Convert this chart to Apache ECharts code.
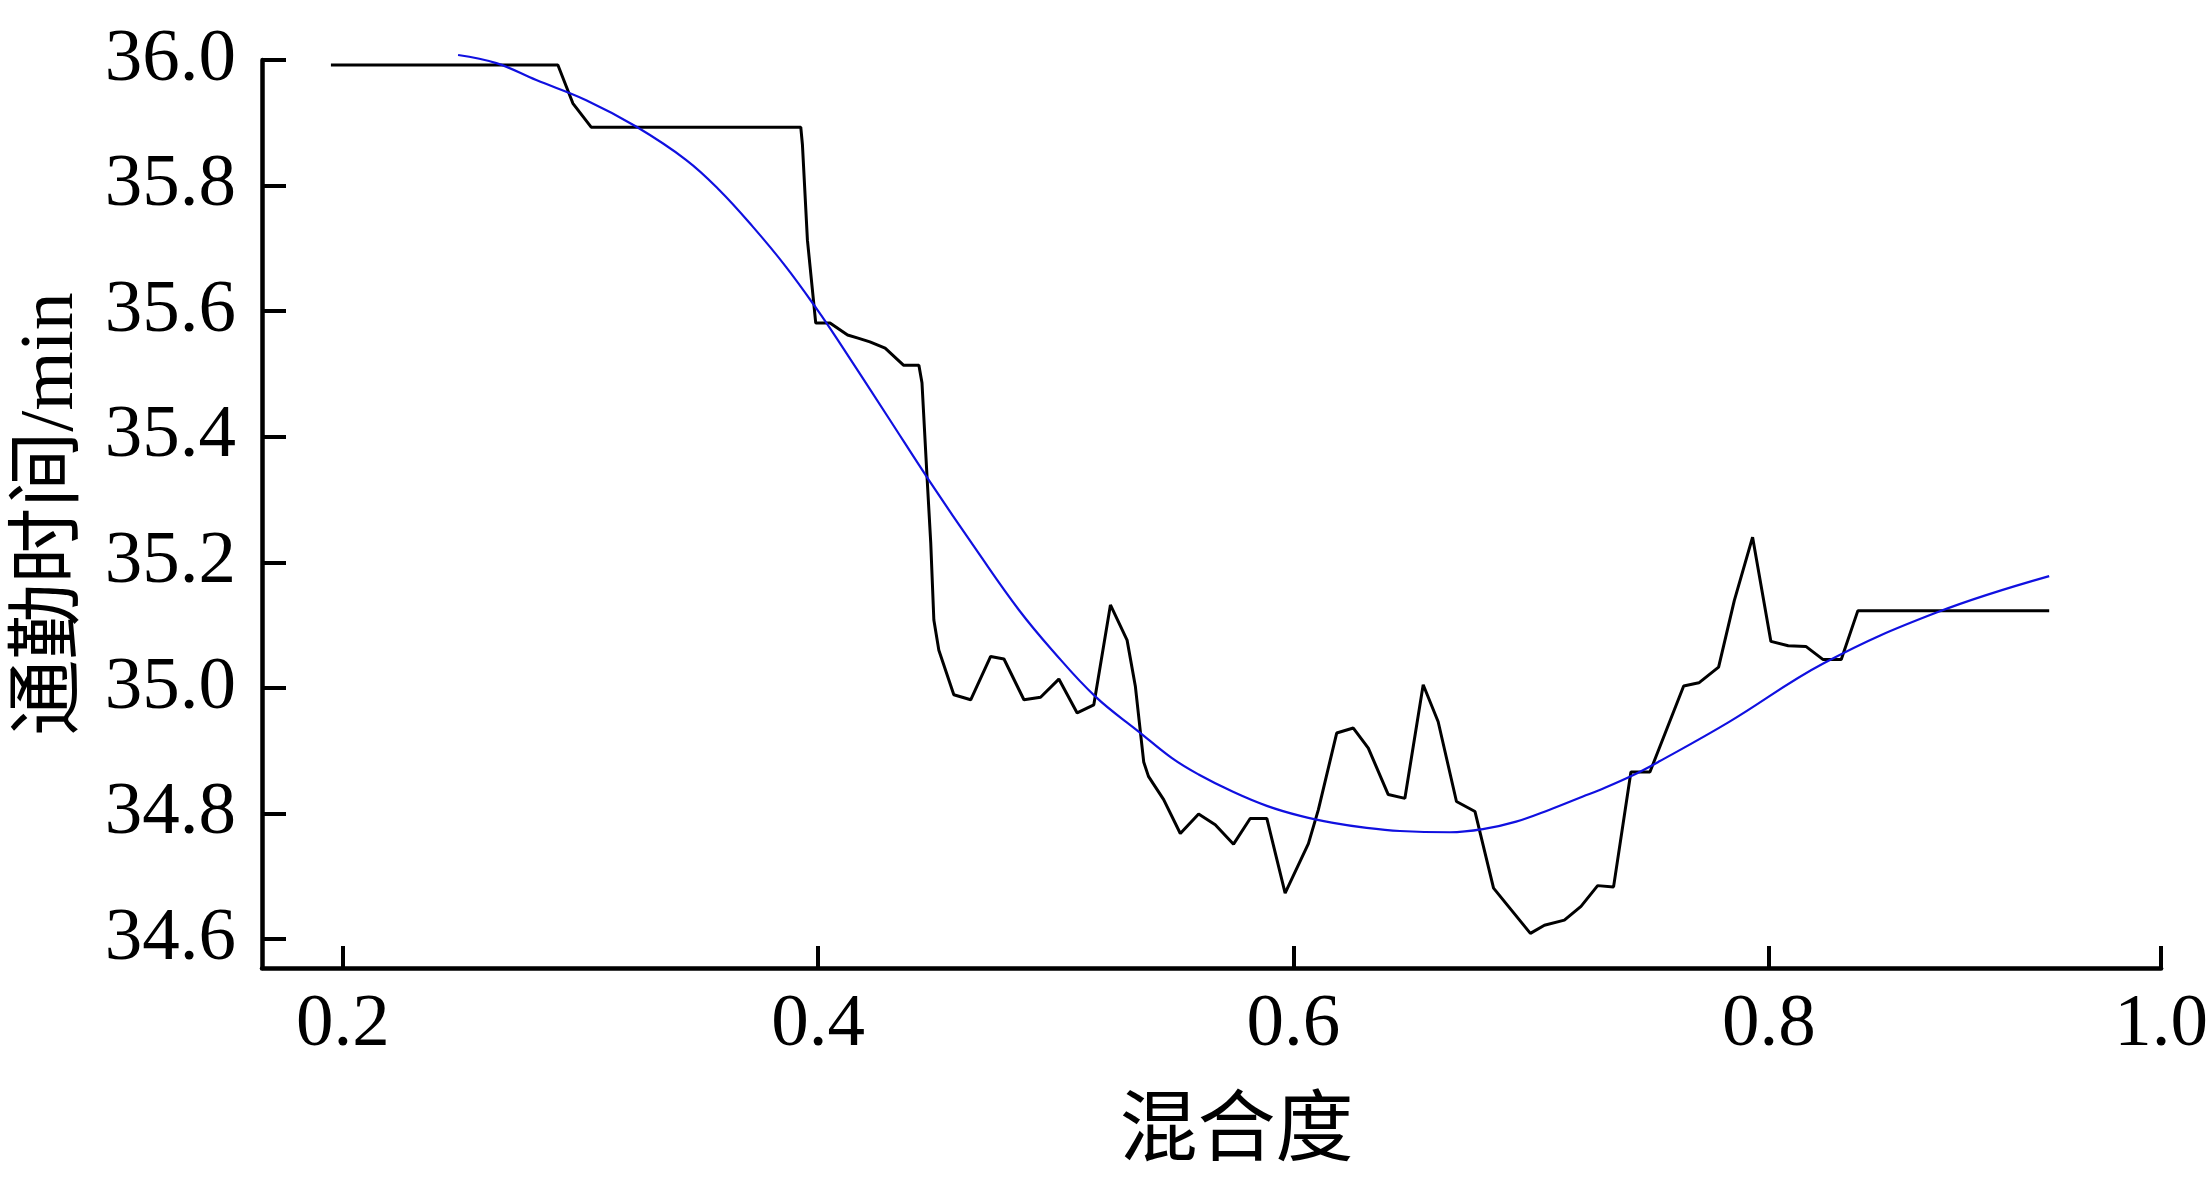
<!DOCTYPE html>
<html>
<head>
<meta charset="utf-8">
<script src="https://cdn.jsdelivr.net/npm/echarts@6/dist/echarts.min.js"></script>
<style>
html,body{margin:0;padding:0;background:#fff;}
#chart{width:2211px;height:1183px;}
</style>
</head>
<body>
<div id="chart"></div>
<script>
// ---- data ----
const xAxisName = '混合度';
const yAxisName = '通勤时间/min';
const xTickValues = [0.2, 0.4, 0.6, 0.8, 0.9651];
const xTickLabels = ['0.2', '0.4', '0.6', '0.8', '1.0'];
const yTickValues = [34.6, 34.8, 35.0, 35.2, 35.4, 35.6, 35.8, 36.0];
const yTickLabels = ['34.6', '34.8', '35.0', '35.2', '35.4', '35.6', '35.8', '36.0'];

// raw commute-time curve (black)
const rawX = [0.195,0.2905,0.2968,0.3045,0.3927,0.3934,0.3955,0.399,0.405,0.4124,0.4168,0.4218,0.4282,0.4359,0.4424,0.4437,0.4459,0.4474,0.4487,0.4508,0.4571,0.4642,0.4726,0.4782,0.4866,0.4936,0.5013,0.509,0.516,0.523,0.53,0.5335,0.537,0.539,0.5454,0.5524,0.5601,0.5671,0.5748,0.5818,0.5888,0.5965,0.6063,0.6105,0.6182,0.6252,0.6315,0.6399,0.6469,0.6546,0.6609,0.6686,0.6764,0.6842,0.6997,0.7056,0.714,0.721,0.728,0.7347,0.742,0.750,0.7642,0.7706,0.7789,0.7855,0.7932,0.8009,0.8082,0.8156,0.8229,0.8305,0.8375,0.918];
const rawY = [35.992,35.992,35.931,35.893,35.893,35.865,35.713,35.581,35.581,35.562,35.557,35.551,35.541,35.514,35.514,35.486,35.331,35.23,35.108,35.06,34.989,34.981,35.05,35.046,34.981,34.985,35.014,34.96,34.973,35.132,35.076,35.002,34.882,34.859,34.822,34.768,34.799,34.782,34.751,34.792,34.792,34.673,34.752,34.806,34.928,34.936,34.904,34.83,34.824,35.005,34.946,34.819,34.803,34.681,34.609,34.622,34.63,34.652,34.685,34.683,34.866,34.866,35.003,35.008,35.033,35.139,35.24,35.074,35.067,35.066,35.045,35.045,35.123,35.123];

// fitted curve (blue)
const fitX = [0.2485,0.2646,0.2814,0.3024,0.3234,0.3444,0.3584,0.3724,0.3864,0.3997,0.4088,0.4298,0.4466,0.4676,0.4845,0.4985,0.5167,0.535,0.5489,0.5601,0.5748,0.5888,0.6029,0.6167,0.6308,0.6448,0.6658,0.6797,0.6937,0.7078,0.7218,0.7286,0.7424,0.754,0.783,0.8235,0.8706,0.918];
const fitY = [36.008,35.995,35.968,35.936,35.894,35.841,35.793,35.735,35.671,35.602,35.551,35.429,35.331,35.214,35.124,35.06,34.986,34.93,34.888,34.862,34.834,34.812,34.796,34.785,34.777,34.772,34.770,34.775,34.787,34.806,34.827,34.837,34.860,34.883,34.945,35.040,35.120,35.178];

const xMin = 0.166, xMax = 0.9651;
const yMin = 34.5538, yMax = 36.0;

function pairs(xs, ys){ return xs.map((x,i)=>[x, ys[i]]); }
function nearestIdx(arr, v){ let b=0; for(let i=1;i<arr.length;i++){ if(Math.abs(arr[i]-v)<Math.abs(arr[b]-v)) b=i; } return b; }

const serif = '"Liberation Serif", "Times New Roman", "Noto Sans CJK SC", serif';
const chart = echarts.init(document.getElementById('chart'), null, {renderer:'canvas'});
chart.setOption({
  animation: false,
  backgroundColor: '#ffffff',
  grid: { left: 262, right: 48, top: 60, bottom: 215 },
  xAxis: {
    type: 'value', min: xMin, max: xMax,
    name: xAxisName, nameLocation: 'middle', nameGap: 118,
    nameTextStyle: { fontFamily: '"Noto Sans CJK SC", sans-serif', fontSize: 78, color: '#000', padding: [0,0,0,50] },
    axisLine: { show: true, onZero: false, lineStyle: { color: '#000', width: 4.5 } },
    axisTick: { show: true, inside: true, length: 22, customValues: xTickValues, lineStyle: { color: '#000', width: 4 } },
    axisLabel: { show: true, customValues: xTickValues, margin: 20, fontFamily: serif, fontSize: 75, color: '#000',
      formatter: (v) => xTickLabels[nearestIdx(xTickValues, v)] },
    splitLine: { show: false }
  },
  yAxis: {
    type: 'value', min: yMin, max: yMax,
    name: yAxisName, nameLocation: 'middle', nameGap: 172, nameRotate: 90,
    nameTextStyle: { fontFamily: serif, fontSize: 76, color: '#000' },
    axisLine: { show: true, onZero: false, lineStyle: { color: '#000', width: 4.5 } },
    axisTick: { show: true, inside: true, length: 24, customValues: yTickValues, lineStyle: { color: '#000', width: 4 } },
    axisLabel: { show: true, customValues: yTickValues, margin: 26, fontFamily: serif, fontSize: 75, color: '#000',
      formatter: (v) => yTickLabels[nearestIdx(yTickValues, v)] },
    splitLine: { show: false }
  },
  series: [
    { type: 'line', data: pairs(rawX, rawY), showSymbol: false, symbol: 'none', clip: false,
      lineStyle: { color: '#000000', width: 3 }, z: 2 },
    { type: 'line', data: pairs(fitX, fitY), showSymbol: false, symbol: 'none', smooth: 0.4, clip: false,
      lineStyle: { color: '#1010e0', width: 2.2 }, z: 3 }
  ]
});
</script>
</body>
</html>
